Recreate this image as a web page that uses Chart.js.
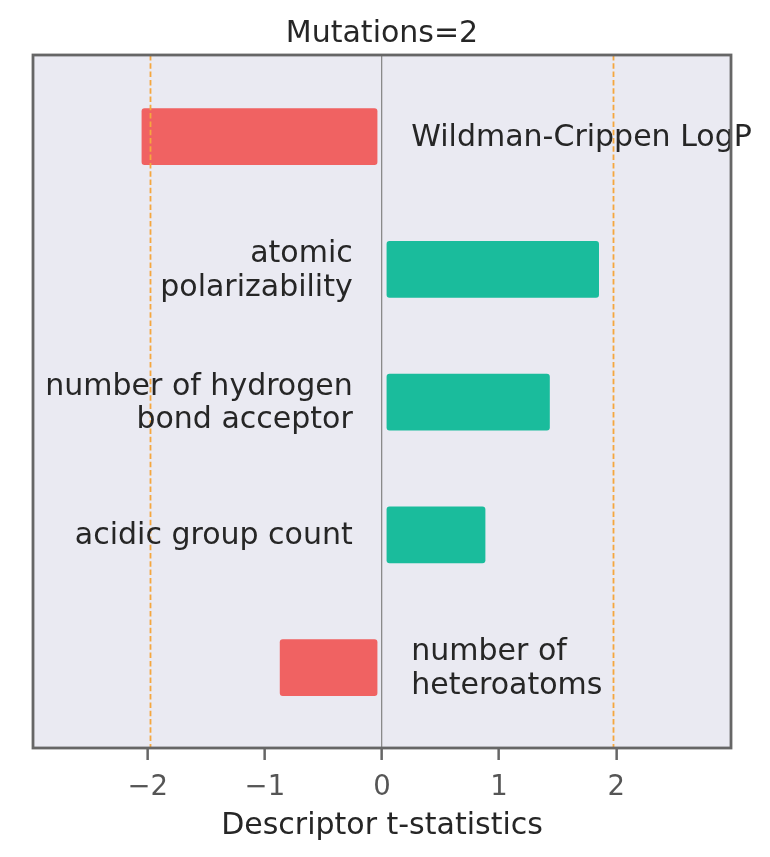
<!DOCTYPE html>
<html>
<head>
<meta charset="utf-8">
<script src="https://cdn.jsdelivr.net/npm/chart.js@4"></script>
<style>
  html, body { margin: 0; padding: 0; background: #ffffff; }
  #wrap { width: 770px; height: 857px; }
</style>
</head>
<body>
<div id="wrap"><canvas id="c" width="770" height="857"></canvas></div>
<script>
// ---- data ----
const chartTitle = "Mutations=2";
const axisTitle = "Descriptor t-statistics";
const descriptors = [
  ["Wildman-Crippen LogP"],
  ["atomic", "polarizability"],
  ["number of hydrogen", "bond acceptor"],
  ["acidic group count"],
  ["number of", "heteroatoms"]
];
const tStats = [-2.05, 1.85, 1.43, 0.88, -0.87];
const criticalT = [-1.98, 1.97];
const xTicks = [-2, -1, 0, 1, 2];

// ---- styles ----
const FONT = "'DejaVu Sans', 'Liberation Sans', sans-serif";
const RED = "#F06262";
const TEAL = "#1ABC9C";
const BG = "#EAEAF2";
const TEXT = "#262626";
const GAP = 0.042;          // visual gap between bars and the zero line (data units)
const LABEL_OFFSET = 0.25;  // label anchor distance from zero (data units)

const barData = tStats.map((v, i) => ({ x: [v < 0 ? -GAP : GAP, v], y: i }));

const decorPlugin = {
  id: 'decor',
  beforeDraw(chart) {
    const { ctx, chartArea: a } = chart;
    ctx.save();
    ctx.fillStyle = BG;
    ctx.fillRect(a.left, a.top, a.right - a.left, a.bottom - a.top);
    ctx.restore();
  },
  afterDatasetsDraw(chart) {
    const { ctx, chartArea: a, scales } = chart;
    const xs = scales.x, ys = scales.y;
    ctx.save();
    // critical t dashed lines
    ctx.strokeStyle = "#F5A73F";
    ctx.lineWidth = 1.8;
    ctx.setLineDash([5.5, 2.8]);
    criticalT.forEach(v => {
      const px = Math.round(xs.getPixelForValue(v)) + 0.5;
      ctx.beginPath();
      ctx.moveTo(px, a.top);
      ctx.lineTo(px, a.bottom);
      ctx.stroke();
    });
    ctx.setLineDash([]);
    // descriptor labels
    ctx.fillStyle = TEXT;
    ctx.font = "30px " + FONT;
    ctx.textBaseline = 'alphabetic';
    const lh = 33.5;
    descriptors.forEach((lines, i) => {
      const v = tStats[i];
      const cy = ys.getPixelForValue(i);
      const lx = xs.getPixelForValue(v < 0 ? LABEL_OFFSET : -LABEL_OFFSET);
      ctx.textAlign = v < 0 ? 'left' : 'right';
      lines.forEach((t, k) => {
        const y = cy + 9.5 + (k - (lines.length - 1) / 2) * lh;
        ctx.fillText(t, lx, y);
      });
    });
    // title
    ctx.textAlign = 'center';
    ctx.font = "30px " + FONT;
    ctx.fillText(chartTitle, (a.left + a.right) / 2, 42);
    // frame
    ctx.strokeStyle = "#666666";
    ctx.lineWidth = 2.8;
    ctx.strokeRect(a.left, a.top, a.right - a.left, a.bottom - a.top);
    ctx.restore();
  }
};

new Chart(document.getElementById('c'), {
  type: 'bar',
  data: {
    datasets: [{
      data: barData,
      backgroundColor: ctx => {
        const v = tStats[ctx.dataIndex];
        return v < 0 ? RED : TEAL;
      },
      borderWidth: 0,
      borderRadius: 3,
      borderSkipped: false,
      barThickness: 56
    }]
  },
  options: {
    indexAxis: 'y',
    responsive: false,
    devicePixelRatio: 1,
    animation: false,
    layout: { padding: { left: 33, right: 39, top: 55, bottom: 9 } },
    plugins: {
      legend: { display: false },
      title: { display: false },
      tooltip: { enabled: false }
    },
    scales: {
      y: {
        type: 'linear',
        display: false,
        reverse: true,
        offset: false,
        min: -0.615,
        max: 4.605
      },
      x: {
        type: 'linear',
        position: 'bottom',
        offset: false,
        min: -2.98,
        max: 2.98,
        afterFit: s => { s.height = 100; },
        afterBuildTicks: s => { s.ticks = xTicks.map(v => ({ value: v })); },
        ticks: {
          includeBounds: false,
          padding: 11,
          color: '#555555',
          font: { family: FONT, size: 27.5 },
          callback: v => (v < 0 ? '\u2212' + Math.abs(v) : String(v))
        },
        grid: {
          drawOnChartArea: true,
          color: c => (c.tick && c.tick.value === 0 ? '#8a8a8a' : 'rgba(0,0,0,0)'),
          lineWidth: 1.3,
          tickLength: 12,
          tickColor: '#666666',
          tickWidth: 2.5
        },
        border: { display: false },
        title: {
          display: true,
          text: axisTitle,
          color: TEXT,
          font: { family: FONT, size: 30 },
          padding: { top: 4, bottom: 4 }
        }
      }
    }
  },
  plugins: [decorPlugin]
});
</script>
</body>
</html>
